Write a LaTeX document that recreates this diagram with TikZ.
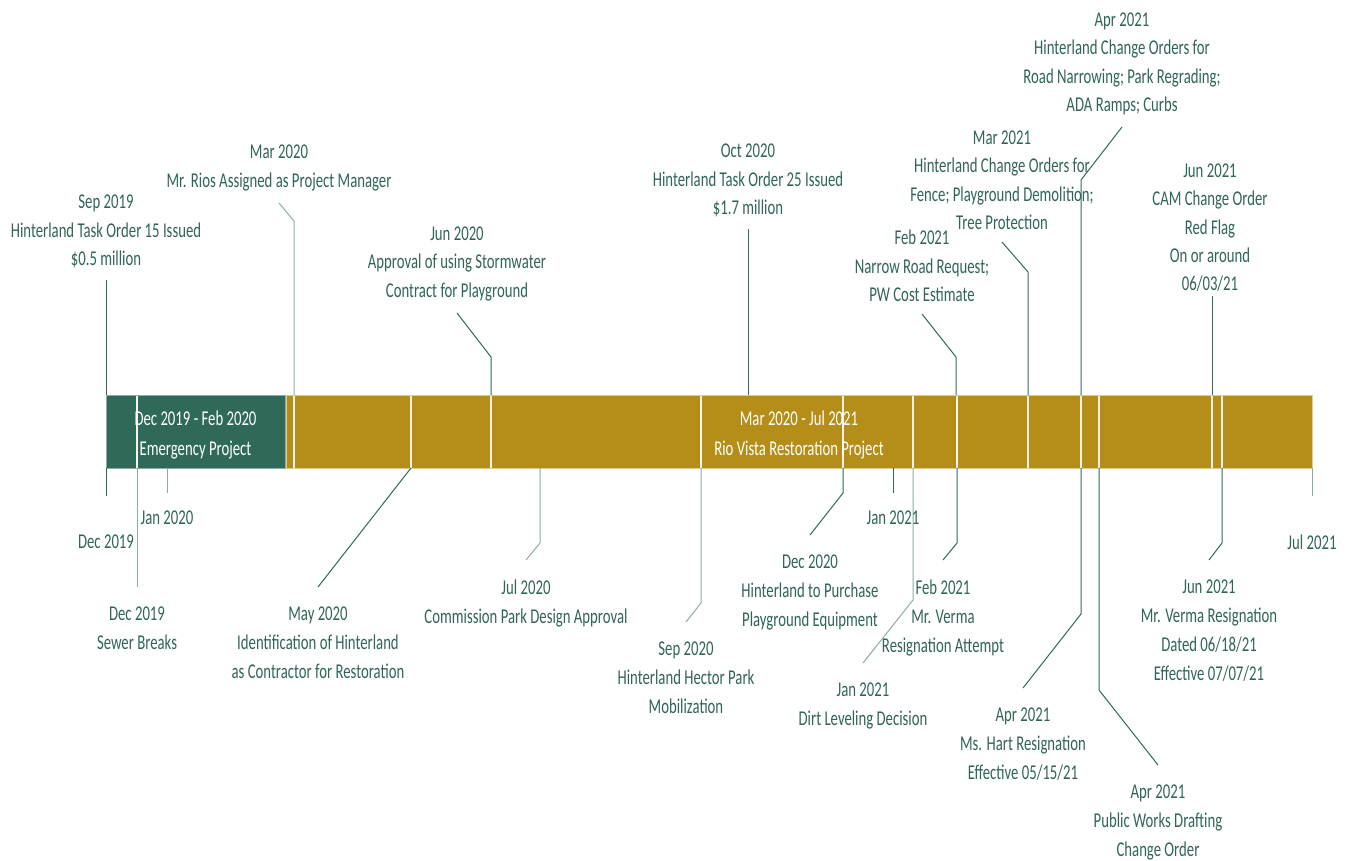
\documentclass[tikz,border=0pt]{standalone}
\usepackage{fontspec}
\setmainfont{Carlito}[FakeStretch=0.70]
\definecolor{tlText}{RGB}{48,100,88}
\definecolor{tlLine}{RGB}{46,104,90}
\definecolor{tlLight}{RGB}{140,172,166}
\definecolor{tlGreen}{RGB}{47,105,90}
\definecolor{tlGold}{RGB}{180,142,24}
\begin{document}
\begin{tikzpicture}[x=0.75pt,y=-0.75pt,
    lbl/.style={align=center,text=tlText,inner xsep=0pt,
      font=\fontsize{15.8}{21.5}\selectfont},
    toplbl/.style={lbl,anchor=south,inner ysep=9pt,
      font=\fontsize{15.8}{21.25}\selectfont},
    botlbl/.style={lbl,anchor=north,inner ysep=14.5pt,
      font=\fontsize{15.8}{21.75}\selectfont},
    ticklbl/.style={lbl,inner sep=0pt},
    bar/.style={inner sep=0pt,line width=0.75pt,minimum height=54.75pt},
    bartext/.style={align=center,text=white,inner sep=0pt,
      font=\fontsize{15.8}{22.5}\selectfont},
    conn/.style={draw=tlLine,line width=0.75pt},
    connlt/.style={draw=tlLight,line width=0.75pt},
    sepline/.style={draw=white!90!tlGold,line width=1pt}]
  \useasboundingbox (0,0) rectangle (1347,861);
  % the two projects
  \node[bar,fill=tlGreen,draw=tlGreen!55!white,minimum width=134.25pt] (emerg) at (195.5,431.5) {};
  \node[bar,fill=tlGold,draw=tlGold!45!white,minimum width=769.5pt] (rio) at (799,431.5) {};
  \foreach \x in {137,294,411,491,701,843,913,957,1028,1081,1099,1212,1222}
    \draw[sepline] (\x,395.5) -- (\x,467.5);
  \node[bartext] (emergtxt) at ([yshift=-2.5pt]emerg.center) {Dec 2019 - Feb 2020\\Emergency Project};
  \node[bartext] (riotxt) at ([yshift=-2.5pt]rio.center) {Mar 2020 - Jul 2021\\Rio Vista Restoration Project};

  % above the bar
  \node[toplbl] (sep19) at (106,280) {Sep 2019\\Hinterland Task Order 15 Issued\\\$0.5 million};
  \node[toplbl] (mar20) at (279,203) {Mar 2020\\Mr. Rios Assigned as Project Manager};
  \node[toplbl] (jun20) at (457,313) {Jun 2020\\Approval of using Stormwater\\Contract for Playground};
  \node[toplbl] (oct20) at (748,229) {Oct 2020\\Hinterland Task Order 25 Issued\\\$1.7 million};
  \node[toplbl] (feb21a) at (922,314) {Feb 2021\\Narrow Road Request;\\PW Cost Estimate};
  \node[toplbl] (mar21) at (1002,242) {Mar 2021\\Hinterland Change Orders for\\Fence; Playground Demolition;\\Tree Protection};
  \node[toplbl] (apr21a) at (1122,127) {Apr 2021\\Hinterland Change Orders for\\Road Narrowing; Park Regrading;\\ADA Ramps; Curbs};
  \node[toplbl,inner ysep=3pt] (jun21a) at (1210,296) {Jun 2021\\CAM Change Order\\Red Flag\\On or around\\06/03/21};

  \coordinate (p-sep19) at (106,395);
  \coordinate (p-mar20) at (294,395);
  \coordinate (p-jun20) at (491,395);
  \coordinate (p-oct20) at (748,395);
  \coordinate (p-feb21a) at (956,395);
  \coordinate (p-mar21) at (1028,395);
  \coordinate (p-apr21a) at (1081,395);
  \coordinate (p-jun21a) at (1212,395);

  \draw[conn] (p-sep19) -- (sep19.south);
  \draw[connlt] (p-mar20) -- (294,221) -- (mar20.south);
  \draw[conn] (p-jun20) -- (491,357) -- (jun20.south);
  \draw[conn] (p-oct20) -- (oct20.south);
  \draw[conn] (p-feb21a) -- (956,357) -- (feb21a.south);
  \draw[conn] (p-mar21) -- (1028,272) -- (mar21.south);
  \draw[conn] (p-apr21a) -- (1081,180) -- (apr21a.south);
  \draw[conn] (p-jun21a) -- (1212,296);

  % below the bar
  \node[botlbl] (sew19) at (137,587) {Dec 2019\\Sewer Breaks};
  \node[botlbl] (may20) at (318,587) {May 2020\\Identification of Hinterland\\as Contractor for Restoration};
  \node[botlbl] (jul20) at (526,560) {Jul 2020\\Commission Park Design Approval};
  \node[botlbl] (sep20) at (686,622) {Sep 2020\\Hinterland Hector Park\\Mobilization};
  \node[botlbl] (dec20) at (810,535) {Dec 2020\\Hinterland to Purchase\\Playground Equipment};
  \node[botlbl] (jan21b) at (863,663) {Jan 2021\\Dirt Leveling Decision};
  \node[botlbl] (feb21b) at (943,560) {Feb 2021\\Mr. Verma\\Resignation Attempt};
  \node[botlbl] (apr21b) at (1023,688) {Apr 2021\\Ms. Hart Resignation\\Effective 05/15/21};
  \node[botlbl] (apr21c) at (1158,765) {Apr 2021\\Public Works Drafting\\Change Order};
  \node[botlbl] (jun21b) at (1209,560) {Jun 2021\\Mr. Verma Resignation\\Dated 06/18/21\\Effective 07/07/21};

  \coordinate (q-sew19) at (137,468);
  \coordinate (q-may20) at (411,468);
  \coordinate (q-jul20) at (540,468);
  \coordinate (q-sep20) at (701,468);
  \coordinate (q-dec20) at (843,468);
  \coordinate (q-jan21b) at (913,468);
  \coordinate (q-feb21b) at (957,468);
  \coordinate (q-apr21b) at (1081,468);
  \coordinate (q-apr21c) at (1099,468);
  \coordinate (q-jun21b) at (1222,468);

  \draw[connlt] (q-sew19) -- (sew19.north);
  \draw[conn] (q-may20) -- (may20.north);
  \draw[connlt] (q-jul20) -- (540,543) -- (jul20.north);
  \draw[connlt] (q-sep20) -- (701,603) -- (sep20.north);
  \draw[conn] (q-dec20) -- (843,493) -- (dec20.north);
  \draw[connlt] (q-jan21b) -- (913,600) -- (jan21b.north);
  \draw[conn] (q-feb21b) -- (957,543) -- (feb21b.north);
  \draw[conn] (q-apr21b) -- (1081,614) -- (apr21b.north);
  \draw[conn] (q-apr21c) -- (1099,690) -- (apr21c.north);
  \draw[conn] (q-jun21b) -- (1222,543) -- (jun21b.north);

  % month ticks
  \node[ticklbl] (dec19) at (106,542) {Dec 2019};
  \node[ticklbl] (jan20) at (167,518) {Jan 2020};
  \node[ticklbl] (jan21) at (893,518) {Jan 2021};
  \node[ticklbl] (jul21) at (1312,542) {Jul 2021};
  \coordinate (t-dec19) at (106,468);
  \coordinate (t-jan20) at (167,468);
  \coordinate (t-jan21) at (893,468);
  \coordinate (t-jul21) at (1312,468);
  \draw[conn,shorten >=29pt] (t-dec19) -- (dec19.north);
  \draw[connlt,shorten >=13.5pt] (t-jan20) -- (jan20.north);
  \draw[conn,shorten >=13.5pt] (t-jan21) -- (jan21.north);
  \draw[connlt,shorten >=28.5pt] (t-jul21) -- (jul21.north);
\end{tikzpicture}
\end{document}
